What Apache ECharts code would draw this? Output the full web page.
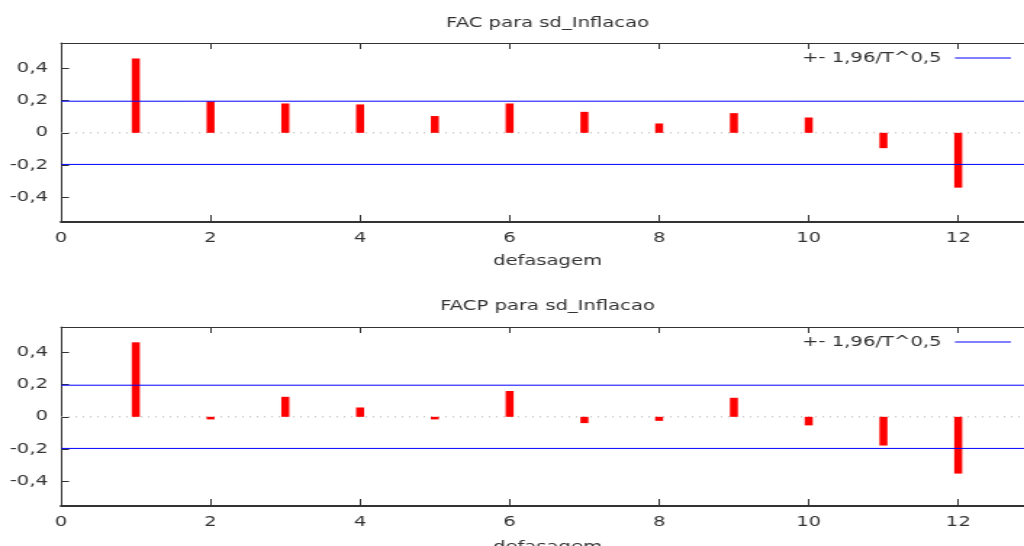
<!DOCTYPE html>
<html>
<head>
<meta charset="utf-8">
<script src="https://cdn.jsdelivr.net/npm/echarts@6/dist/echarts.min.js"></script>
<style>
  html, body { margin: 0; padding: 0; overflow: hidden; background: #fff; }
  /* the reference picture is stretched sideways, so the chart is drawn narrower and widened */
  #chart {
    width: 706px;
    height: 546px;
    transform: scaleX(1.45042);
    transform-origin: 0 0;
  }
</style>
</head>
<body>
<div id="chart"></div>
<script>
// lags 1..12
const lags = [1, 2, 3, 4, 5, 6, 7, 8, 9, 10, 11, 12];
// FAC (autocorrelation)
const facValues = [0.461, 0.195, 0.182, 0.176, 0.104, 0.182, 0.130, 0.058, 0.122, 0.095, -0.095, -0.340];
// FACP (partial autocorrelation)
const facpValues = [0.462, -0.016, 0.124, 0.058, -0.016, 0.160, -0.039, -0.025, 0.118, -0.053, -0.178, -0.352];
const yTicks = [-0.4, -0.2, 0, 0.2, 0.4];
const band = 0.196;
const xMin = 0;
const xMax = 12.88;
const bandName = "+- 1,96/T^0,5";

const font = "DejaVu Sans";
const fontSize = 13.5;
const textColor = "#333";
const frameColor = "#333";

const myChart = echarts.init(document.getElementById("chart"));

function fmt(v) {
  return String(Math.round(v * 10) / 10).replace(".", ",");
}

function xAxes(gridIndex, title, nameGapTitle, nameGapBottom) {
  return [
    {
      gridIndex: gridIndex,
      type: "value",
      position: "bottom",
      min: xMin,
      max: xMax,
      interval: 2,
      name: "defasagem",
      nameLocation: "middle",
      nameGap: nameGapBottom,
      nameTextStyle: { color: textColor, fontFamily: font, fontSize: fontSize, padding: [0, 0, 0, 7] },
      axisLine: { onZero: false, lineStyle: { color: frameColor, width: 2 } },
      axisTick: { inside: true, length: 7, lineStyle: { color: frameColor } },
      axisLabel: {
        margin: 9,
        color: textColor,
        fontFamily: font,
        fontSize: fontSize,
        showMaxLabel: false,
      },
      splitLine: { show: false },
    },
    {
      gridIndex: gridIndex,
      type: "value",
      position: "top",
      min: xMin,
      max: xMax,
      interval: 2,
      name: title,
      nameLocation: "middle",
      nameGap: nameGapTitle,
      nameTextStyle: { color: textColor, fontFamily: font, fontSize: fontSize, padding: [0, 0, 0, 7] },
      axisLine: { onZero: false, lineStyle: { color: frameColor, width: 1 } },
      axisTick: { inside: true, length: 6, lineStyle: { color: frameColor } },
      axisLabel: { show: false },
      splitLine: { show: false },
    },
  ];
}

function yAxis(gridIndex) {
  return {
    gridIndex: gridIndex,
    type: "value",
    position: "left",
    min: -0.553,
    max: 0.557,
    axisLine: { show: true, onZero: false, lineStyle: { color: frameColor, width: 1 } },
    axisTick: {
      inside: true,
      length: 5.5,
      customValues: yTicks,
      lineStyle: { color: frameColor },
    },
    axisLabel: {
      margin: 9,
      color: textColor,
      fontFamily: font,
      fontSize: fontSize,
      customValues: yTicks,
      formatter: fmt,
    },
    splitLine: { show: false },
  };
}

function panelSeries(idx, values) {
  return [
    {
      type: "bar",
      xAxisIndex: idx * 2,
      yAxisIndex: idx,
      barWidth: 5.5,
      itemStyle: { color: "#ff0000" },
      data: lags.map((l, i) => [l, values[i]]),
      z: 2,
    },
    {
      type: "line",
      xAxisIndex: idx * 2,
      yAxisIndex: idx,
      symbol: "none",
      silent: true,
      lineStyle: { color: "#b0b0b0", width: 1, type: [1, 4] },
      data: [[xMin, 0], [xMax, 0]],
      z: 1,
    },
    {
      name: bandName,
      type: "line",
      xAxisIndex: idx * 2,
      yAxisIndex: idx,
      symbol: "none",
      silent: true,
      color: "#0000ff",
      lineStyle: { color: "#0000ff", width: 1 },
      data: [[xMin, band], [xMax, band]],
      z: 3,
    },
    {
      name: bandName,
      type: "line",
      xAxisIndex: idx * 2,
      yAxisIndex: idx,
      symbol: "none",
      silent: true,
      color: "#0000ff",
      lineStyle: { color: "#0000ff", width: 1 },
      data: [[xMin, -band], [xMax, -band]],
      z: 3,
    },
  ];
}

function legend(top) {
  return {
    data: [bandName],
    right: 9,
    top: top,
    padding: 0,
    align: "right",
    icon: "rect",
    itemWidth: 38.6,
    itemHeight: 1,
    formatter: (name) => name + " ",
    textStyle: { color: textColor, fontFamily: font, fontSize: fontSize },
    selectedMode: false,
  };
}

const option = {
  animation: false,
  backgroundColor: "#fff",
  legend: [legend(51), legend(335)],
  grid: [
    { left: 42.06, right: 0, top: 43, height: 179, outerBoundsMode: "none" },
    { left: 42.06, right: 0, top: 327, height: 179, outerBoundsMode: "none" },
  ],
  xAxis: [
    ...xAxes(0, "FAC para sd_Inflacao", 12.5, 32),
    ...xAxes(1, "FACP para sd_Inflacao", 13.5, 34),
  ],
  yAxis: [yAxis(0), yAxis(1)],
  series: [...panelSeries(0, facValues), ...panelSeries(1, facpValues)],
};

myChart.setOption(option);
</script>
</body>
</html>
